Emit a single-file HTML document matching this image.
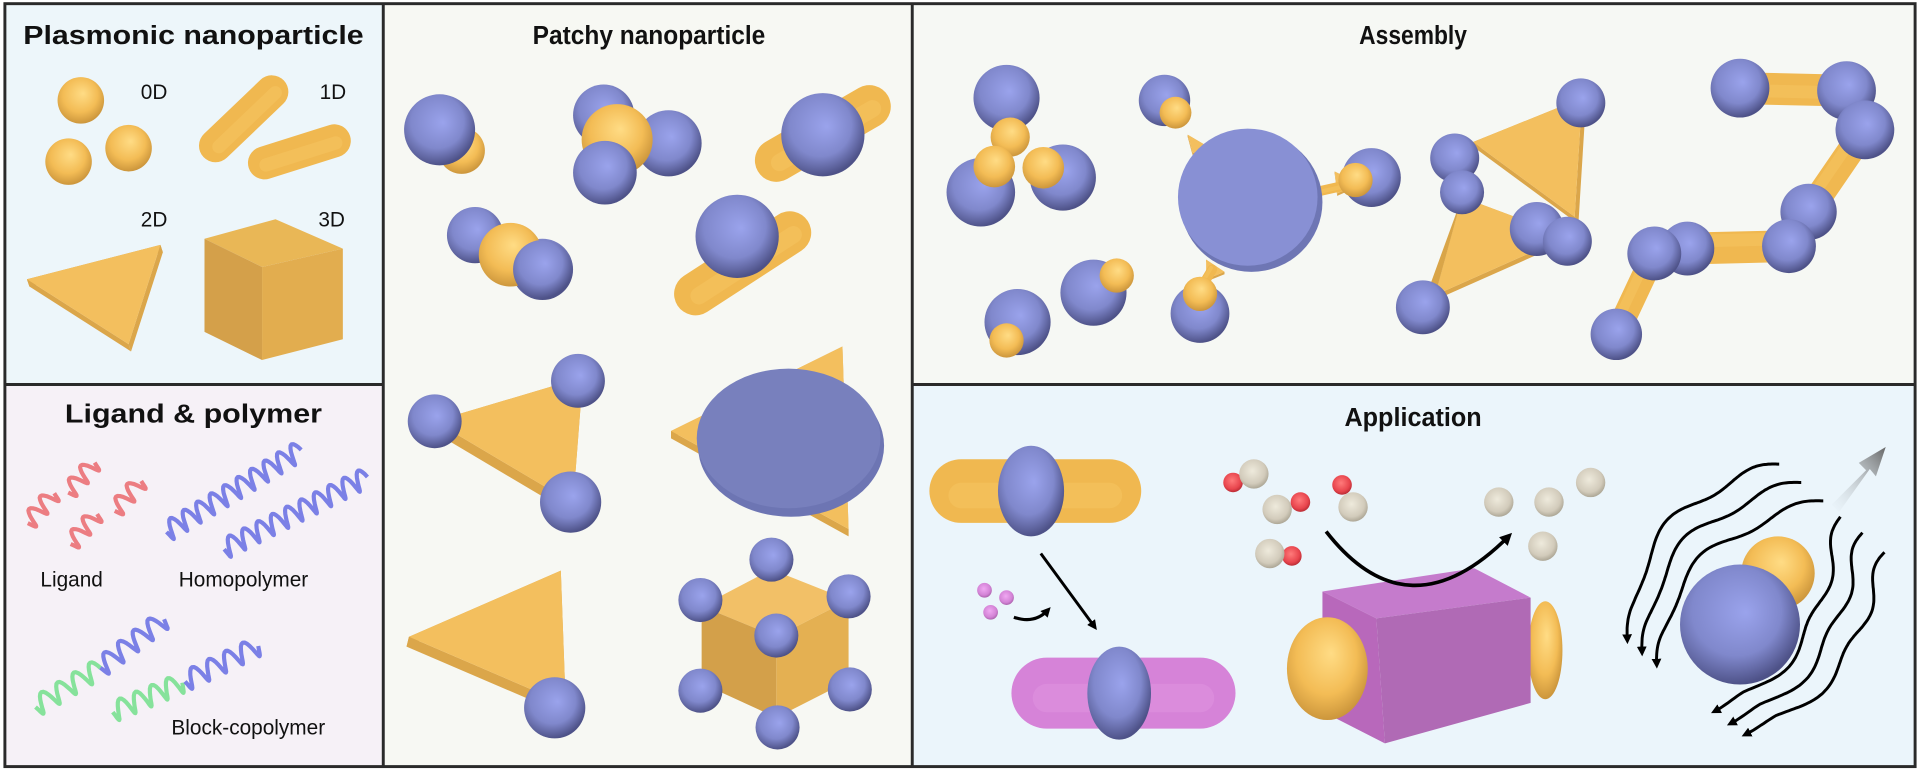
<!DOCTYPE html>
<html><head><meta charset="utf-8"><style>
html,body{margin:0;padding:0;background:#fff;}
svg{display:block;}
text{font-family:"Liberation Sans",Arial,sans-serif;fill:#111;}
.t{font-weight:bold;font-size:21px;text-anchor:middle;}
.l{font-size:17px;}
</style></head><body>
<svg id="s" width="1920" height="771" viewBox="0 0 1568 629.6" preserveAspectRatio="none" xmlns="http://www.w3.org/2000/svg">
<defs>
<radialGradient id="gB" cx="42%" cy="38%" r="62%" fx="55%" fy="40%"><stop offset="0" stop-color="#9aa3ec"/><stop offset="0.6" stop-color="#8088cc"/><stop offset="1" stop-color="#4e5288"/></radialGradient>
<radialGradient id="gG" cx="45%" cy="40%" r="62%" fx="55%" fy="35%"><stop offset="0" stop-color="#ffdc85"/><stop offset="0.6" stop-color="#f3bc55"/><stop offset="1" stop-color="#c9933a"/></radialGradient>
<radialGradient id="gW" cx="45%" cy="40%" r="62%"><stop offset="0" stop-color="#eeeadc"/><stop offset="0.7" stop-color="#d2cbbb"/><stop offset="1" stop-color="#a9a392"/></radialGradient>
<radialGradient id="gR" cx="45%" cy="40%" r="62%"><stop offset="0" stop-color="#ff7b7b"/><stop offset="0.7" stop-color="#e8454d"/><stop offset="1" stop-color="#b52a33"/></radialGradient>
<radialGradient id="gP" cx="45%" cy="40%" r="62%"><stop offset="0" stop-color="#f0a8f2"/><stop offset="0.7" stop-color="#d383d6"/><stop offset="1" stop-color="#a860aa"/></radialGradient>
<linearGradient id="gArr" x1="0" y1="1" x2="1" y2="0"><stop offset="0" stop-color="#e8f3fa" stop-opacity="0.2"/><stop offset="1" stop-color="#666"/></linearGradient>
<marker id="ah" markerWidth="8" markerHeight="8" refX="5" refY="4" orient="auto" markerUnits="userSpaceOnUse"><path d="M0,0 L8,4 L0,8 Z" fill="#000"/></marker>
<marker id="ah2" markerWidth="10" markerHeight="10" refX="6" refY="5" orient="auto" markerUnits="userSpaceOnUse"><path d="M0,0 L10,5 L0,10 Z" fill="#000"/></marker>
</defs>
<rect x="0" y="0" width="1568" height="629.6" fill="#fff"/>
<rect x="4" y="3" width="309" height="311" fill="#edf6fa"/>
<rect x="4" y="314" width="309" height="312" fill="#f6f1f7"/>
<rect x="313" y="3" width="432" height="623" fill="#f7f8f3"/>
<rect x="745" y="3" width="819" height="311" fill="#f6f8f4"/>
<rect x="745" y="314" width="819" height="312" fill="#ebf5fb"/>
<g stroke="#2a2a2a" stroke-width="2.4" fill="none">
<rect x="4" y="3" width="1560" height="623"/>
<line x1="313" y1="3" x2="313" y2="626"/>
<line x1="745" y1="3" x2="745" y2="626"/>
<line x1="4" y1="314" x2="313" y2="314"/>
<line x1="745" y1="314" x2="1564" y2="314"/>
</g>
<text class="t" x="158" y="36" textLength="278" lengthAdjust="spacingAndGlyphs">Plasmonic nanoparticle</text>
<text class="t" x="158" y="345" textLength="210" lengthAdjust="spacingAndGlyphs">Ligand &amp; polymer</text>
<text class="t" x="530" y="36" textLength="190" lengthAdjust="spacingAndGlyphs">Patchy nanoparticle</text>
<text class="t" x="1154" y="36" textLength="88" lengthAdjust="spacingAndGlyphs">Assembly</text>
<text class="t" x="1154" y="348" textLength="112" lengthAdjust="spacingAndGlyphs">Application</text>
<text class="l" x="115" y="81">0D</text>
<text class="l" x="261" y="81">1D</text>
<text class="l" x="115" y="185">2D</text>
<text class="l" x="260" y="185">3D</text>
<text class="l" x="33" y="479">Ligand</text>
<text class="l" x="146" y="479">Homopolymer</text>
<text class="l" x="140" y="600">Block-copolymer</text>
<g id="g"></g>
</svg>
<script>
var o='';
function sph(x,y,r,g,ry){o+='<ellipse cx="'+x+'" cy="'+y+'" rx="'+r+'" ry="'+(ry||r)+'" fill="url(#'+(g||'gB')+')"/>';}
function rod(x1,y1,x2,y2,w,c,h){o+='<line x1="'+x1+'" y1="'+y1+'" x2="'+x2+'" y2="'+y2+'" stroke="'+(c||'#f0b850')+'" stroke-width="'+w+'" stroke-linecap="round"/>';
 var dx=x2-x1,dy=y2-y1,L=Math.hypot(dx,dy),nx=-dy/L,ny=dx/L,k=w*0.15;
 o+='<line x1="'+(x1+nx*k)+'" y1="'+(y1+ny*k-w*0.08)+'" x2="'+(x2+nx*k)+'" y2="'+(y2+ny*k-w*0.08)+'" stroke="'+(h||'#fbcd6c')+'" stroke-width="'+(w*0.4)+'" stroke-linecap="round" opacity="0.35"/>';}
function poly(p,c){o+='<polygon points="'+p.map(function(a){return a.join(',')}).join(' ')+'" fill="'+c+'"/>';}
function tri(p,t){var q=p.map(function(a){return [a[0]+t[0],a[1]+t[1]]});
 for(var i=0;i<3;i++){var j=(i+1)%3;poly([p[i],p[j],q[j],q[i]],'#dba64a');}poly(p,'#f3bf5e');}
function spring(x1,y1,x2,y2,n,a,c,w){var dx=x2-x1,dy=y2-y1,L=Math.hypot(dx,dy),nx=-dy/L,ny=dx/L,d='';
 for(var i=0;i<=n*16;i++){var t=i/(n*16),s=Math.sin(t*n*2*Math.PI),cc=Math.cos(t*n*2*Math.PI);var x=x1+dx*t+nx*a*s+dx/L*a*0.15*cc,y=y1+dy*t+ny*a*s+dy/L*a*0.15*cc;d+=(i?'L':'M')+x.toFixed(1)+','+y.toFixed(1);}
 o+='<path d="'+d+'" fill="none" stroke="'+c+'" stroke-width="'+(w||3.4)+'" stroke-linejoin="round"/>';}
function wave(P,amp,per,mk){var d='',N=120;function B(t,k){var u=1-t;return u*u*u*P[0][k]+3*u*u*t*P[1][k]+3*u*t*t*P[2][k]+t*t*t*P[3][k];}
 for(var i=0;i<=N;i++){var t=i/N,x=B(t,0),y=B(t,1),x2=B(Math.min(t+0.01,1),0)-B(Math.max(t-0.01,0),0),y2=B(Math.min(t+0.01,1),1)-B(Math.max(t-0.01,0),1),L=Math.hypot(x2,y2),s=Math.sin(t*per*2*Math.PI)*amp*(t<0.9?1:(1-t)*10);
 x+=-y2/L*s;y+=x2/L*s;d+=(i?'L':'M')+x.toFixed(1)+','+y.toFixed(1);}
 o+='<path d="'+d+'" fill="none" stroke="#000" stroke-width="2.4" marker-end="url(#'+(mk||'ah')+')"/>';}

sph(66,82,19,'gG');sph(56,132,19,'gG');sph(105,121,19,'gG');
rod(176,119,222,75,27);rod(216,133,273,115,27);
tri([[22,228],[131,200],[105,281]],[2,6]);
poly([[167,195],[225,179],[280,203],[214,218]],'#e9b756');
poly([[167,195],[214,218],[214,294],[167,271]],'#d4a04a');
poly([[214,218],[280,203],[280,277],[214,294]],'#e2ad4f');

[[22,428,45,402],[55,403,78,377],[57,445,80,419],[93,418,116,392]].forEach(function(a){spring(a[0],a[1],a[2],a[3],2.5,7,'#ec7d82',3.4);});
spring(135,435,245,368,10,8,'#7b80e6');spring(182,449,299,390,10,8,'#7b80e6');
spring(28,578,81,546,4,8,'#86e29b');spring(81,546,135,505,4.5,8,'#7b80e6');
spring(91,582,150,557,4.5,8,'#86e29b');spring(150,557,212,527,4.5,8,'#7b80e6');

sph(377,123,19,'gG');sph(359,106,29);
sph(493,94,25);sph(546,117,27);sph(504,114,29,'gG');sph(494,141,26);
rod(634,131,710,87,35);sph(672,110,34);
sph(388,192,23);sph(443,220,25);sph(417,208,26,'gG');sph(443,220,24);
rod(568,240,645,190,35);sph(602,193,34);
tri([[355,344],[476,308],[468,411]],[-2,8]);sph(355,344,22);sph(472,311,22);sph(466,410,25);
tri([[548,352],[688,283],[693,432]],[0,6]);
o+='<ellipse cx="646" cy="364" rx="76" ry="58" fill="#6d75b3"/><ellipse cx="644" cy="358" rx="75" ry="57" fill="#7880bd"/>';
tri([[334,520],[458,466],[462,575]],[-2,8]);sph(453,578,25);
poly([[573,495],[630,465],[693,490],[634,520]],'#f2c067');
poly([[573,495],[634,520],[634,586],[573,558]],'#d3a04a');
poly([[634,520],[693,490],[693,556],[634,586]],'#e4b052');
[[630,457],[572,490],[693,487],[634,519],[572,564],[694,563],[635,594]].forEach(function(a){sph(a[0],a[1],18);});

sph(822,80,27);sph(825,112,16,'gG');sph(801,157,28);sph(812,136,17,'gG');sph(868,145,27);sph(852,137,17,'gG');
sph(831,263,27);sph(822,278,14,'gG');sph(893,239,27);sph(912,225,14,'gG');
tri([[970,110],[987,120],[974,125]],[0,2]);tri([[1090,140],[1110,150],[1092,158]],[0,2]);tri([[985,212],[1000,222],[985,228]],[0,2]);
rod(990,220,975,245,8);rod(1060,160,1105,150,8);
o+='<ellipse cx="1022" cy="165" rx="58" ry="57" fill="#6e76b4"/><ellipse cx="1019" cy="161" rx="57" ry="56" fill="#8890d4"/>';
sph(951,82,21);sph(960,92,13,'gG');sph(1120,145,24);sph(1107,147,14,'gG');sph(980,256,24);sph(980,240,14,'gG');
tri([[1194,161],[1280,193],[1172,241]],[0,4]);poly([[1194,161],[1172,241],[1166,238]],'#d9a548');
tri([[1203,116],[1292,80],[1286,177]],[3,6]);
sph(1291,84,20);sph(1188,129,20);sph(1194,157,18);sph(1255,187,22);sph(1280,197,20);sph(1162,251,22);
rod(1421,72,1508,74,26);rod(1523,106,1477,173,22);rod(1461,201,1378,203,26);rod(1351,207,1320,273,20);
sph(1421,72,24);sph(1508,74,24);sph(1523,106,24);sph(1477,173,23);sph(1461,201,22);sph(1378,203,22);sph(1351,207,22);sph(1320,273,21);

rod(785,401,906,401,52);
o+='<ellipse cx="842" cy="401" rx="27" ry="37" fill="url(#gB)"/>';
o+='<line x1="850" y1="452" x2="894" y2="512" stroke="#000" stroke-width="2.4" marker-end="url(#ah)"/>';
sph(804,482,6,'gP');sph(822,488,6,'gP');sph(809,500,6,'gP');
o+='<path d="M828,504 Q845,510 856,498" fill="none" stroke="#000" stroke-width="2.6" marker-end="url(#ah)"/>';
rod(855,566,980,566,58,'#d683d8','#e59de6');
o+='<ellipse cx="914" cy="566" rx="26" ry="38" fill="url(#gB)"/>';
sph(1007,394,8,'gR');sph(1024,387,12,'gW');sph(1062,410,8,'gR');sph(1043,416,12,'gW');
sph(1096,396,8,'gR');sph(1105,414,12,'gW');sph(1055,454,8,'gR');sph(1037,452,12,'gW');
sph(1224,410,12,'gW');sph(1265,410,12,'gW');sph(1299,394,12,'gW');sph(1260,446,12,'gW');
sph(1262,531,14,'gG',40);
poly([[1080,483],[1204,464],[1250,488],[1124,505]],'#c57bcc');
poly([[1080,483],[1124,505],[1131,607],[1080,581]],'#b868bb');
poly([[1124,505],[1250,488],[1250,574],[1131,607]],'#b06ab5');
sph(1084,546,33,'gG',42);
o+='<path d="M1083,434 Q1150,520 1232,438" fill="none" stroke="#000" stroke-width="3" marker-end="url(#ah2)"/>';
o+='<polygon points="1496,412 1524,384 1518,378 1540,365 1532,389 1527,383 1502,418" fill="url(#gArr)"/>';
sph(1452,468,30,'gG');sph(1421,510,49);
wave([[1453,379],[1400,395],[1335,420],[1329,523]],4,2.2);
wave([[1471,394],[1415,410],[1348,435],[1341,533]],4,2.2);
wave([[1489,409],[1430,425],[1360,450],[1353,543]],4,2.2);
wave([[1503,422],[1490,470],[1495,540],[1400,581]],4,2.4);
wave([[1521,435],[1505,480],[1510,550],[1413,591]],4,2.4);
wave([[1539,451],[1522,495],[1525,560],[1425,600]],4,2.4);
document.getElementById('g').innerHTML=o;
</script>
</body></html>
